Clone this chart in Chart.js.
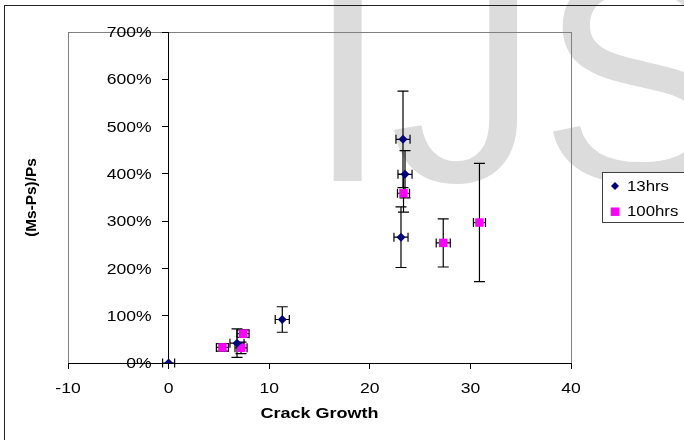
<!DOCTYPE html>
<html>
<head>
<meta charset="utf-8">
<script src="https://cdn.jsdelivr.net/npm/chart.js@4/dist/chart.umd.min.js"></script>
<style>
  html, body { margin: 0; padding: 0; background: #fff; }
  #wrap { width: 684px; height: 440px; }
</style>
</head>
<body>
<div id="wrap"><canvas id="crackChart" width="684" height="440"></canvas></div>
<script>
// series: crack growth (x) vs (Ms-Ps)/Ps in % (y), with error bars
const SERIES_NAMES = ["13hrs", "100hrs"];

const X_13  = [0, 6.8, 11.3, 23.3, 23.5, 23.1];
const Y_13  = [0, 42, 92, 473, 399, 266];
const XE_13 = [0.6, 0.7, 0.7, 0.7, 0.7, 0.7];
const YE_13 = [0, 30, 27, 102, 50, 64];

const X_100  = [5.35, 7.4, 7.2, 23.35, 27.3, 30.9];
const Y_100  = [33, 62, 32, 359, 254, 297];
const XE_100 = [0.6, 0.6, 0.6, 0.6, 0.7, 0.6];
const YE_100 = [8, 8, 12, 40, 51, 125];

const X_TICKS = [-10, 0, 10, 20, 30, 40];
const Y_TICKS = [0, 100, 200, 300, 400, 500, 600, 700];

const X_TITLE = "Crack Growth";
const Y_TITLE = "(Ms-Ps)/Ps";

const FONT = "'Liberation Sans', Arial, sans-serif";

const toPoints = (xs, ys) => xs.map((x, i) => ({ x, y: ys[i] }));
const pct = v => v + "%";

// the original export has slightly wide text, so squeeze it out a bit
function wideText(ctx, text, x, y, align, font, sx) {
  ctx.save();
  ctx.font = font;
  ctx.textBaseline = "middle";
  ctx.textAlign = "left";
  const w = ctx.measureText(text).width * sx;
  const left = align === "right" ? x - w : align === "center" ? x - w / 2 : x;
  ctx.translate(left, y);
  ctx.scale(sx, 1);
  ctx.fillText(text, 0, 0);
  ctx.restore();
}

// white background, watermark, plot-area frame and outer frame
const backdrop = {
  id: "backdrop",
  beforeDraw(chart) {
    const { ctx, chartArea: a } = chart;
    ctx.save();
    ctx.fillStyle = "#fff";
    ctx.fillRect(0, 0, chart.width, chart.height);
    ctx.fillStyle = "#dcdcdc";
    ctx.font = "300px " + FONT;
    ctx.textBaseline = "alphabetic";
    ctx.textAlign = "left";
    ctx.fillText("IJSER", 306, 181);
    ctx.strokeStyle = "#808080";
    ctx.lineWidth = 1;
    ctx.strokeRect(Math.round(a.left) + 0.5, Math.round(a.top) + 0.5,
                   Math.round(a.right - a.left), Math.round(a.bottom - a.top));
    ctx.strokeStyle = "#222";
    ctx.strokeRect(4.5, 5.5, 720, 480);
    ctx.restore();
  }
};

// x and y error bars, drawn under the markers
const errorBars = {
  id: "errorBars",
  beforeDatasetsDraw(chart) {
    const { ctx, scales: { x, y } } = chart;
    const errs = [[XE_13, YE_13], [XE_100, YE_100]];
    ctx.save();
    ctx.strokeStyle = "#000";
    ctx.lineWidth = 1.2;
    chart.data.datasets.forEach((ds, d) => {
      const [xe, ye] = errs[d];
      ds.data.forEach((p, i) => {
        const px = x.getPixelForValue(p.x), py = y.getPixelForValue(p.y);
        ctx.beginPath();
        if (ye[i] > 0) {
          const t = y.getPixelForValue(p.y + ye[i]), b = y.getPixelForValue(p.y - ye[i]);
          ctx.moveTo(px, t); ctx.lineTo(px, b);
          ctx.moveTo(px - 5.5, t); ctx.lineTo(px + 5.5, t);
          ctx.moveTo(px - 5.5, b); ctx.lineTo(px + 5.5, b);
        }
        if (xe[i] > 0) {
          const l = x.getPixelForValue(p.x - xe[i]), r = x.getPixelForValue(p.x + xe[i]);
          ctx.moveTo(l, py); ctx.lineTo(r, py);
          ctx.moveTo(l, py - 4.5); ctx.lineTo(l, py + 4.5);
          ctx.moveTo(r, py - 4.5); ctx.lineTo(r, py + 4.5);
        }
        ctx.stroke();
      });
    });
    ctx.restore();
  }
};

// tick labels, axis titles and boxed legend
const decorations = {
  id: "decorations",
  afterDraw(chart) {
    const { ctx, chartArea: a, scales: { x, y } } = chart;
    const axisX = x.getPixelForValue(0);
    const tickFont = "15px " + FONT;
    ctx.save();
    ctx.fillStyle = "#000";
    y.ticks.forEach(t => wideText(ctx, pct(t.value), axisX - 17, y.getPixelForValue(t.value) + 1, "right", tickFont, 1.17));
    x.ticks.forEach(t => wideText(ctx, String(t.value), x.getPixelForValue(t.value), a.bottom + 25.5, "center", tickFont, 1.17));
    wideText(ctx, X_TITLE, (a.left + a.right) / 2, 414, "center", "bold 15px " + FONT, 1.2);

    ctx.translate(32.5, (a.top + a.bottom) / 2);
    ctx.rotate(-Math.PI / 2);
    wideText(ctx, Y_TITLE, 0, 0, "center", "bold 14px " + FONT, 1.1);
    ctx.restore();

    ctx.save();
    ctx.fillStyle = "#fff";
    ctx.fillRect(602, 172, 100, 51);
    ctx.strokeStyle = "#404040";
    ctx.lineWidth = 1;
    ctx.strokeRect(602.5, 172.5, 100, 50);
    chart.data.datasets.forEach((ds, i) => {
      const yy = 186 + i * 25.7;
      ctx.fillStyle = ds.backgroundColor;
      Chart.helpers.drawPoint(ctx, { pointStyle: ds.pointStyle, radius: i === 0 ? 4 : 6, borderWidth: 0, rotation: 0 }, 615, yy);
      ctx.fillStyle = "#000";
      wideText(ctx, ds.label, 627, yy + 0.5, "left", "15px " + FONT, 1.12);
    });
    ctx.restore();
  }
};

new Chart(document.getElementById("crackChart"), {
  type: "scatter",
  data: {
    datasets: [
      { label: SERIES_NAMES[0], data: toPoints(X_13, Y_13), pointStyle: "rectRot", radius: 4.5,
        backgroundColor: "#000080", borderColor: "#000080", borderWidth: 0 },
      { label: SERIES_NAMES[1], data: toPoints(X_100, Y_100), pointStyle: "rect", radius: 6,
        backgroundColor: "#ff00ff", borderColor: "#ff00ff", borderWidth: 0 }
    ]
  },
  options: {
    responsive: false, animation: false, events: [],
    layout: { padding: { left: 68, top: 32, right: 113, bottom: 0 } },
    plugins: { legend: { display: false }, tooltip: { enabled: false } },
    scales: {
      x: {
        type: "linear", position: "bottom", min: -10, max: 40,
        afterBuildTicks: s => { s.ticks = X_TICKS.map(v => ({ value: v })); },
        afterFit: s => { s.height = 77; },
        grid: { drawOnChartArea: false, drawTicks: true, tickLength: 6, color: "#000", tickColor: "#000" },
        border: { display: true, color: "#000", width: 1 },
        ticks: { display: false }
      },
      y: {
        type: "linear", position: { x: 0 }, min: 0, max: 700,
        afterBuildTicks: s => { s.ticks = Y_TICKS.map(v => ({ value: v })); },
        grid: { drawOnChartArea: false, drawTicks: true, tickLength: 6, color: "#000", tickColor: "#000" },
        border: { display: true, color: "#000", width: 1 },
        ticks: { display: false, callback: pct }
      }
    }
  },
  plugins: [backdrop, errorBars, decorations]
});
</script>
</body>
</html>
